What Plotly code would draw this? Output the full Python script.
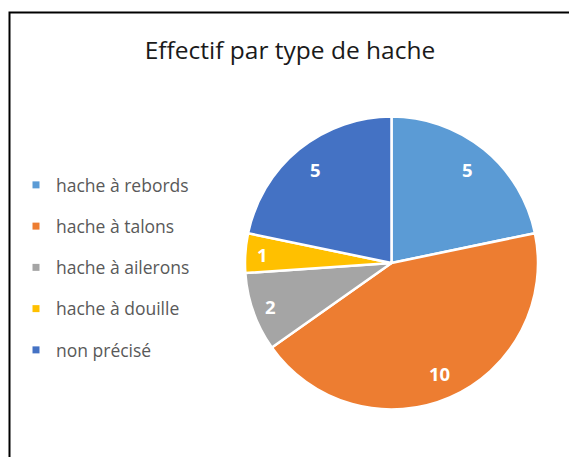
import math
import plotly.graph_objects as go

# Axe types and their counts
categories = ["hache à rebords", "hache à talons", "hache à ailerons", "hache à douille", "non précisé"]
counts = [5, 10, 2, 1, 5]
colors = ["#5B9BD5", "#ED7D31", "#A5A5A5", "#FFC000", "#4472C4"]

W, H = 569, 457

# Pie placement (paper fractions)
dom_x = [245 / W, 538 / W]
dom_y = [1 - 410 / H, 1 - 116 / H]

fig = go.Figure()

fig.add_trace(go.Pie(
    labels=categories,
    values=counts,
    sort=False,
    direction="clockwise",
    rotation=0,
    marker=dict(colors=colors, line=dict(color="white", width=2.5)),
    textinfo="none",
    domain=dict(x=dom_x, y=dom_y),
    showlegend=False,
    hoverinfo="label+value",
))

# Value labels placed near the rim of each slice, along its mid-angle
cx_px = (dom_x[0] + dom_x[1]) / 2 * W
cy_px = (dom_y[0] + dom_y[1]) / 2 * H
radius_px = min((dom_x[1] - dom_x[0]) * W, (dom_y[1] - dom_y[0]) * H) / 2
total = sum(counts)
cum = 0
annotations = []
for v in counts:
    mid = (cum + v / 2) / total * 2 * math.pi  # clockwise from 12 o'clock
    cum += v
    frac = 0.82 if v / total > 0.15 else 0.88
    px = cx_px + frac * radius_px * math.sin(mid)
    py = cy_px + frac * radius_px * math.cos(mid)
    annotations.append(dict(
        x=px / W, y=py / H, xref="paper", yref="paper",
        text=str(v), showarrow=False,
        xanchor="center", yanchor="middle",
        font=dict(family="Open Sans", size=18.5, color="white", weight="bold"),
    ))

# Legend entries as square markers, one group each so the gap can be set
for i, (name, c) in enumerate(zip(categories, colors)):
    fig.add_trace(go.Scatter(
        x=[None], y=[None], mode="markers", name=name,
        marker=dict(symbol="square", size=7, color=c),
        legendgroup=f"g{i}", showlegend=True,
    ))

fig.update_layout(
    width=W, height=H,
    margin=dict(l=0, r=0, t=0, b=0),
    paper_bgcolor="white",
    plot_bgcolor="white",
    xaxis=dict(visible=False),
    yaxis=dict(visible=False),
    title=dict(
        text="Effectif par type de hache",
        x=290 / W, xanchor="center",
        y=1 - 50 / H, yanchor="middle",
        font=dict(family="Open Sans", size=24.5, color="#1a1a1a"),
    ),
    legend=dict(
        x=16 / W, xanchor="left",
        y=1 - 167 / H, yanchor="top",
        font=dict(family="Open Sans", size=17.5, color="#595959"),
        tracegroupgap=15.5,
        traceorder="grouped",
        bgcolor="rgba(0,0,0,0)",
    ),
    annotations=annotations,
    shapes=[dict(
        type="rect", xref="paper", yref="paper",
        x0=9.5 / W, x1=1.1, y0=-0.1, y1=1 - 12.5 / H,
        line=dict(color="black", width=2),
        layer="above",
    )],
)

fig.write_html("out.html")
